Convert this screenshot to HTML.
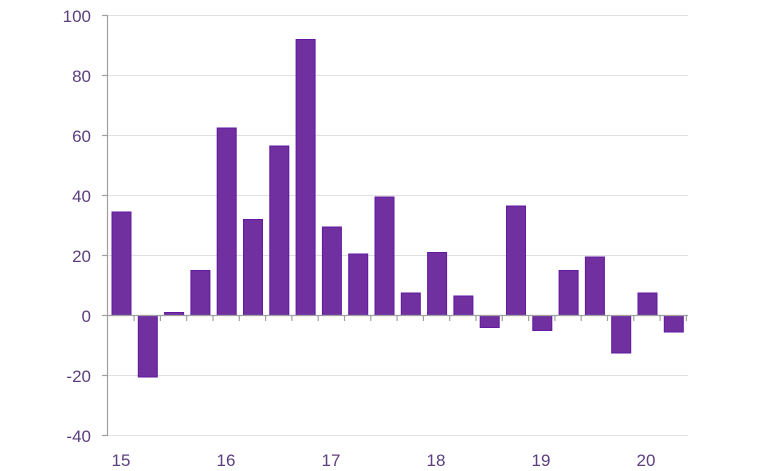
<!DOCTYPE html><html><head><style>body{margin:0;background:#fff}svg{display:block}text{font-family:"Liberation Sans",sans-serif;font-size:17px;fill:#5b3f7e}</style></head><body>
<svg width="768" height="471" xmlns="http://www.w3.org/2000/svg">
<g stroke="#e0e0e0" stroke-width="1">
<line x1="108" x2="688" y1="15.5" y2="15.5"/><line x1="108" x2="688" y1="75.5" y2="75.5"/><line x1="108" x2="688" y1="135.5" y2="135.5"/><line x1="108" x2="688" y1="195.5" y2="195.5"/><line x1="108" x2="688" y1="255.5" y2="255.5"/><line x1="108" x2="688" y1="375.5" y2="375.5"/><line x1="108" x2="688" y1="435.5" y2="435.5"/>
</g>
<g id="bars" fill="#7030a0" stroke="#6218a0" stroke-width="1"></g>
<g stroke="#a0a0a0" stroke-width="1.2" id="axes">
<line x1="107.5" x2="107.5" y1="15" y2="436"/>
<line x1="107.5" x2="688" y1="315.5" y2="315.5"/>
</g>
<g text-anchor="end">
<text x="91" y="22">100</text><text x="91" y="82">80</text><text x="91" y="142">60</text><text x="91" y="202">40</text><text x="91" y="262">20</text><text x="91" y="322">0</text><text x="91" y="382">-20</text><text x="91" y="442">-40</text>
</g>
<g text-anchor="middle">
<text x="121" y="466">15</text><text x="226" y="466">16</text><text x="331" y="466">17</text><text x="436" y="466">18</text><text x="541" y="466">19</text><text x="646" y="466">20</text>
</g>
<script>
var v=[34.5,-20.5,1,15,62.5,32,56.5,92,29.5,20.5,39.5,7.5,21,6.5,-4,36.5,-5,15,19.5,-12.5,7.5,-5.5];
var g=document.getElementById('bars'),a=document.getElementById('axes'),ns='http://www.w3.org/2000/svg';
v.forEach(function(d,i){var r=document.createElementNS(ns,'rect');var x=112+26.3*i;var y0=315.5,h=Math.abs(d)*3;r.setAttribute('x',x);r.setAttribute('width',19);r.setAttribute('y',d>=0?y0-h:y0);r.setAttribute('height',h);g.appendChild(r);});
for(var i=0;i<=7;i++){var l=document.createElementNS(ns,'line');l.setAttribute('x1',102);l.setAttribute('x2',108);var y=15.5+60*i;l.setAttribute('y1',y);l.setAttribute('y2',y);a.appendChild(l);}
for(var i=1;i<=22;i++){var l=document.createElementNS(ns,'line');var x=107.8+26.3*i;l.setAttribute('x1',x);l.setAttribute('x2',x);l.setAttribute('y1',315.5);l.setAttribute('y2',321);a.appendChild(l);}
</script>
</svg></body></html>
